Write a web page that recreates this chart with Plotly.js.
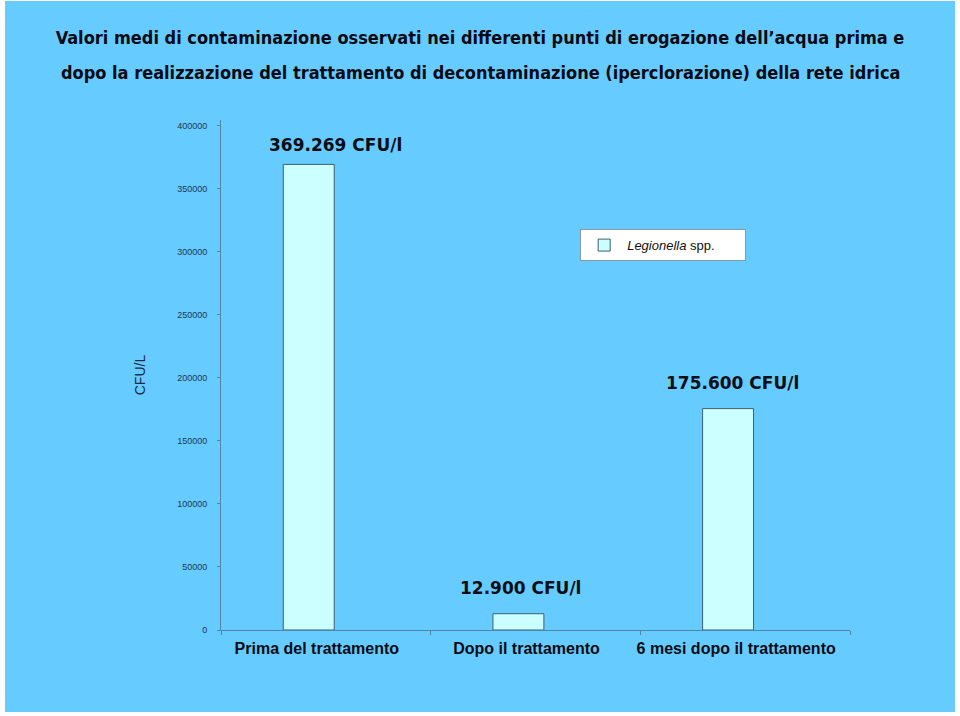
<!DOCTYPE html>
<html>
<head>
<meta charset="utf-8">
<script src="https://cdn.plot.ly/plotly-3.0.1.min.js"></script>
<style>
html,body{margin:0;padding:0;background:#ffffff;width:960px;height:716px;overflow:hidden;}
#chart{position:absolute;left:5px;top:1px;width:950px;height:711px;}
</style>
</head>
<body>
<div id="chart"></div>
<script>
const titleLine1 = "Valori medi di contaminazione osservati nei differenti punti di erogazione dell\u2019acqua prima e";
const titleLine2 = "dopo la realizzazione del trattamento di decontaminazione (iperclorazione) della rete idrica";
const categories = ["Prima del trattamento", "Dopo il trattamento", "6 mesi dopo il trattamento"];
const values = [369269, 12900, 175600];
const seriesName = "<i>Legionella</i> spp.";
const yTicks = [0, 50000, 100000, 150000, 200000, 250000, 300000, 350000, 400000];
const yTitle = "CFU/L";
const unit = " CFU/l";

function itFmt(v){ return String(v).replace(/\B(?=(\d{3})+(?!\d))/g, "."); }

const labelShift = [10, -15, -13];
const labelYShift = [7, 14, 14];

const trace = {
  type: "bar",
  x: categories,
  y: values,
  name: seriesName,
  width: 0.243,
  offset: -0.203,
  marker: {color: "#CCFFFF", line: {color: "#3f5f70", width: 1}},
  showlegend: true,
  hoverinfo: "x+y"
};

const annotations = categories.map((c, i) => ({
  x: c, y: values[i], xref: "x", yref: "y",
  text: itFmt(values[i]) + unit,
  showarrow: false, xanchor: "center", yanchor: "bottom",
  xshift: labelShift[i], yshift: labelYShift[i],
  font: {family: "DejaVu Sans, Verdana, sans-serif", size: 17, color: "#0d0d14", weight: "bold"}
}));
annotations.push({
  x: 0.4118, y: 1.094, xref: "paper", yref: "paper",
  text: "<b>" + titleLine2 + "</b>", showarrow: false,
  xanchor: "center", yanchor: "middle",
  font: {family: "DejaVu Sans Condensed, sans-serif", size: 18, color: "#0a0a14"}
});

const layout = {
  width: 950, height: 711,
  paper_bgcolor: "#66CCFF",
  plot_bgcolor: "#66CCFF",
  margin: {l: 216, r: 105, t: 119, b: 82, pad: 0},
  title: {
    text: "<b>" + titleLine1 + "</b>",
    x: 0.5, xref: "container", xanchor: "center",
    y: 0.948, yref: "container", yanchor: "middle",
    font: {family: "DejaVu Sans Condensed, sans-serif", size: 18, color: "#0a0a14"}
  },
  xaxis: {
    type: "category",
    range: [-0.5, 2.5],
    showline: true, linecolor: "#4f86a8", linewidth: 1,
    ticks: "outside", tickson: "boundaries", ticklen: 4, tickcolor: "#4f86a8",
    showgrid: false, zeroline: false,
    tickfont: {family: "Liberation Sans, Arial, sans-serif", size: 16, color: "#0a0a14", weight: "bold"},
    ticklabelstandoff: 4,
    ticklabelshift: -9
  },
  yaxis: {
    range: [0, 404500],
    tickvals: yTicks,
    ticktext: yTicks.map(String),
    showline: true, linecolor: "#4f86a8", linewidth: 1,
    ticks: "outside", ticklen: 3, tickcolor: "#4f86a8",
    showgrid: false, zeroline: false,
    tickfont: {family: "Liberation Sans, Arial, sans-serif", size: 9, color: "#1f3550"},
    ticklabelstandoff: 8,
    title: {text: yTitle, standoff: 28, font: {family: "Liberation Sans, Arial, sans-serif", size: 14, color: "#1a2c48"}}
  },
  showlegend: true,
  legend: {
    x: 0.571, y: 0.786, xanchor: "left", yanchor: "top",
    orientation: "h", entrywidth: 113,
    bgcolor: "#ffffff", bordercolor: "#8797a6", borderwidth: 1,
    font: {family: "Liberation Sans, Arial, sans-serif", size: 13, color: "#111"},
    itemwidth: 36
  },
  annotations: annotations,
  bargap: 0.5
};

Plotly.newPlot("chart", [trace], layout, {displayModeBar: false, staticPlot: true});
</script>
</body>
</html>
